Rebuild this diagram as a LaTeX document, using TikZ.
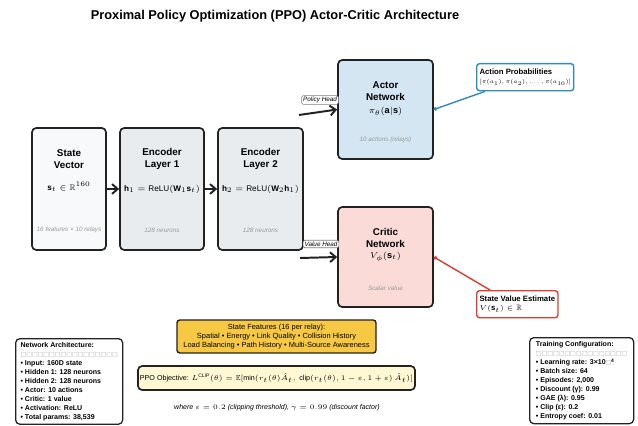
\documentclass[tikz,border=0pt]{standalone}
\usepackage{amsmath, amssymb}
\usepackage{fontspec}
\setmainfont{Liberation Sans}
\newfontfamily\dejavu{DejaVu Sans}
\usepackage{xcolor}
\usepackage{tikz}
\usetikzlibrary{arrows.meta}

\definecolor{bordo}{HTML}{222222}
\definecolor{statofill}{HTML}{F8F9FA}
\definecolor{encfill}{HTML}{E9ECEF}
\definecolor{actorfill}{HTML}{D4E6F1}
\definecolor{criticfill}{HTML}{FADBD8}
\definecolor{blu}{HTML}{2E8BC0}
\definecolor{rosso}{HTML}{E03C31}
\definecolor{oro}{HTML}{F7C843}
\definecolor{crema}{HTML}{FFF8D2}

\newcommand{\righello}[1]{{\dejavu\mdseries\fontsize{4.3}{5}\selectfont\color{gray!60}\foreach \i in {1,...,#1}{\char"25A1}}}

\begin{document}
\begin{tikzpicture}[x=0.025cm,y=-0.025cm,>=Stealth]

% Stili
\tikzset{
  blocco/.style={draw=bordo, line width=1.2pt, rounded corners=3pt, inner sep=0pt},
  titolo/.style={font=\bfseries\fontsize{7}{8.5}\selectfont, align=center},
  formula/.style={font=\fontsize{5.8}{7}\selectfont},
  nota/.style={font=\itshape\fontsize{4.5}{5.5}\selectfont, text=gray!80},
  freccia/.style={-{Straight Barb[length=4pt,width=7pt]}, line width=1.4pt, bordo},
  etichetta/.style={draw=gray, fill=white, rounded corners=1pt, line width=0.4pt,
    font=\itshape\fontsize{4.5}{5}\selectfont, inner sep=1pt},
  uscita/.style={draw, line width=1pt, rounded corners=2pt, fill=white, align=left,
    anchor=north west, inner sep=2pt, font=\fontsize{5.5}{6.3}\selectfont},
  info/.style={draw=bordo, line width=0.9pt, rounded corners=3pt, fill=white, align=left,
    anchor=north west, inner sep=2.5pt, font=\bfseries\fontsize{5}{6.4}\selectfont}
}

\useasboundingbox (0,0) rectangle (638,426);

% --- Titolo ---
\node[font=\bfseries\fontsize{9.1}{11}\selectfont] (titolo) at (275,16)
  {Proximal Policy Optimization (PPO) Actor-Critic Architecture};

% --- Encoder ---
\node[blocco, fill=statofill, minimum width=1.85cm, minimum height=3.05cm] (stato) at (69,189) {};
\node[blocco, fill=encfill, minimum width=2.1cm, minimum height=3.05cm] (enc1) at (162,189) {};
\node[blocco, fill=encfill, minimum width=2.125cm, minimum height=3.05cm] (enc2) at (260.5,189) {};

\node[titolo] (statoT) at (69,159) {State\\Vector};
\node[formula] (statoF) at (69,187) {$\mathbf{s}_t \in \mathbb{R}^{160}$};
\node[nota] (statoN) at (69,230) {16 features × 10 relays};

\node[titolo] (enc1T) at (162,159) {Encoder\\Layer 1};
\node[formula] (enc1F) at (162,189) {$\mathbf{h}_1 = \mathrm{ReLU}(\mathbf{W}_1\mathbf{s}_t)$};
\node[nota] (enc1N) at (162,230) {128 neurons};

\node[titolo] (enc2T) at (260.5,159) {Encoder\\Layer 2};
\node[formula] (enc2F) at (260.5,189) {$\mathbf{h}_2 = \mathrm{ReLU}(\mathbf{W}_2\mathbf{h}_1)$};
\node[nota] (enc2N) at (260.5,230) {128 neurons};

\draw[freccia] (stato.east) -- (enc1.west);
\draw[freccia] (enc1.east) -- (enc2.west);

% --- Teste actor e critic ---
\node[blocco, fill=actorfill, minimum width=2.375cm, minimum height=2.475cm] (actor) at (385.5,109.5) {};
\node[titolo] (actorT) at (385.5,91) {Actor\\Network};
\node[formula, font=\fontsize{6.5}{8}\selectfont] (actorF) at (385.5,111) {$\pi_\theta(\mathbf{a}|\mathbf{s})$};
\node[nota] (actorN) at (385.5,140) {10 actions (relays)};

\node[blocco, fill=criticfill, minimum width=2.375cm, minimum height=2.5cm] (critic) at (385.5,257) {};
\node[titolo] (criticT) at (385.5,238) {Critic\\Network};
\node[formula, font=\fontsize{6.5}{8}\selectfont] (criticF) at (385.5,257) {$V_\phi(\mathbf{s}_t)$};
\node[nota] (criticN) at (385.5,288) {Scalar value};

\coordinate (ph) at (299,115);
\coordinate (vh) at (300,258);
\draw[freccia] (ph) -- (actor.west);
\draw[freccia] (vh) -- (critic.west);
\node[etichetta] (phL) at (320,100) {Policy Head};
\node[etichetta] (vhL) at (321,244) {Value Head};

% --- Uscite ---
\node[uscita, draw=blu, minimum width=2.425cm, minimum height=0.675cm] (prob) at (476,63)
  {\textbf{Action Probabilities}\\\scalebox{0.8}{$[\pi(a_1), \pi(a_2), \ldots, \pi(a_{10})]$}};
\node[uscita, draw=rosso, minimum width=2.025cm, minimum height=0.675cm] (valore) at (476,290)
  {\textbf{State Value Estimate}\\$V(\mathbf{s}_t) \in \mathbb{R}$};

\draw[blu, line width=1pt, {Circle[length=2.5pt]}-] (actor.east) -- ([xshift=0.225cm]prob.south west);
\draw[rosso, line width=1pt, {Circle[length=2.5pt]}-] (critic.east) -- ([xshift=0.35cm]valore.north west);

% --- Parte inferiore ---
\node[draw=bordo, line width=1pt, rounded corners=2pt, fill=oro, align=center,
  minimum width=4.975cm, minimum height=0.825cm, inner sep=1pt,
  font=\fontsize{5.3}{6.6}\selectfont] (feat) at (276.5,336.5)
  {State Features (16 per relay):\\Spatial • Energy • Link Quality • Collision History\\Load Balancing • Path History • Multi-Source Awareness};

\node[draw=bordo, line width=1.2pt, rounded corners=3pt, fill=crema,
  minimum width=6.925cm, minimum height=0.6cm, inner sep=1pt,
  font=\fontsize{5.1}{6.5}\selectfont] (obj) at (276.5,378)
  {PPO Objective: $L^{\mathrm{CLIP}}(\theta) = \mathbb{E}[\min(r_t(\theta)\hat{A}_t,\, \mathrm{clip}(r_t(\theta), 1-\varepsilon, 1+\varepsilon)\,\hat{A}_t)]$};

\node[font=\itshape\fontsize{5}{6}\selectfont] (dove) at (277,408)
  {where $\varepsilon = 0.2$ (clipping threshold), $\gamma = 0.99$ (discount factor)};

% Riquadri informativi
\node[info, minimum width=2.675cm, minimum height=1.95cm] (arch) at (15,338)
  {Network Architecture:\\\righello{17}\\• Input: 160D state\\• Hidden 1: 128 neurons\\• Hidden 2: 128 neurons\\• Actor: 10 actions\\• Critic: 1 value\\• Activation: ReLU\\• Total params: 38,539};

\node[info, minimum width=2.6cm, minimum height=2.15cm] (train) at (529,337)
  {Training Configuration:\\\righello{16}\\• Learning rate: 3×10{\dejavu\mdseries\fontsize{4}{5}\selectfont\color{gray!70}\char"25A1}\raisebox{1.3pt}{\fontsize{3.5}{4}\selectfont 4}\\• Batch size: 64\\• Episodes: 2,000\\• Discount (γ): 0.99\\• GAE (λ): 0.95\\• Clip (ε): 0.2\\• Entropy coef: 0.01};

\end{tikzpicture}
\end{document}
